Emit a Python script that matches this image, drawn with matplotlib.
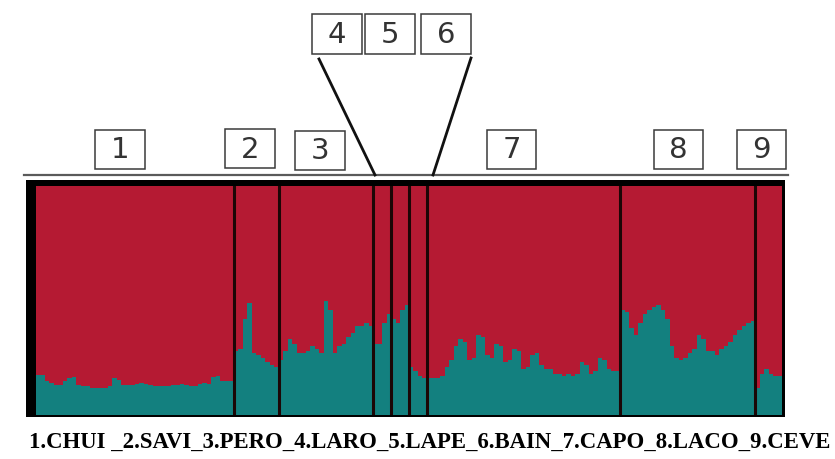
import matplotlib
matplotlib.use("Agg")
import matplotlib.pyplot as plt
from matplotlib.patches import Rectangle
from matplotlib.lines import Line2D
import numpy as np

# ---------------- data (teal ancestry proportion per individual) ----------------
pop_numbers = ["1", "2", "3", "4", "5", "6", "7", "8", "9"]
pop_names = ["CHUI", "SAVI", "PERO", "LARO", "LAPE", "BAIN", "CAPO", "LACO", "CEVE"]

chui = [0.175, 0.175, 0.15, 0.14, 0.13, 0.13, 0.15, 0.16, 0.165, 0.13,
        0.125, 0.125, 0.12, 0.12, 0.12, 0.12, 0.125, 0.16, 0.155, 0.13,
        0.13, 0.13, 0.135, 0.14, 0.135, 0.13, 0.125, 0.125, 0.125, 0.125,
        0.13, 0.13, 0.135, 0.13, 0.125, 0.125, 0.135, 0.14, 0.135, 0.165,
        0.17, 0.15, 0.15, 0.15]
savi = [0.28, 0.29, 0.42, 0.49, 0.27, 0.26, 0.25, 0.23, 0.22, 0.21]
pero = [0.24, 0.28, 0.33, 0.31, 0.27, 0.27, 0.28, 0.30, 0.29, 0.27,
        0.50, 0.46, 0.27, 0.30, 0.31, 0.34, 0.36, 0.39, 0.39, 0.40, 0.39]
laro = [0.31, 0.31, 0.40, 0.44]
lape = [0.42, 0.40, 0.46, 0.48]
bain = [0.21, 0.19, 0.17, 0.16]
capo = [0.16, 0.16, 0.16, 0.17, 0.21, 0.24, 0.30, 0.33, 0.32, 0.24,
        0.25, 0.35, 0.34, 0.26, 0.25, 0.31, 0.30, 0.23, 0.24, 0.29,
        0.28, 0.20, 0.21, 0.26, 0.27, 0.22, 0.20, 0.20, 0.18, 0.18,
        0.17, 0.18, 0.17, 0.18, 0.23, 0.22, 0.18, 0.19, 0.25, 0.24,
        0.20, 0.19, 0.19]
laco = [0.46, 0.45, 0.38, 0.35, 0.40, 0.44, 0.46, 0.47, 0.48, 0.46,
        0.42, 0.30, 0.25, 0.24, 0.25, 0.27, 0.29, 0.35, 0.33, 0.28,
        0.28, 0.26, 0.29, 0.30, 0.32, 0.35, 0.37, 0.39, 0.40, 0.41]
ceve = [0.12, 0.18, 0.20, 0.18, 0.17, 0.17]

populations = [chui, savi, pero, laro, lape, bain, capo, laco, ceve]

RED = "#B51A33"
TEAL = "#13807F"

W, H = 835, 459
fig = plt.figure(figsize=(W / 100, H / 100), dpi=100)
fig.patch.set_facecolor("white")


def fx(px):
    return px / W


def fy(py):
    return 1 - py / H


# black frame behind the plot
fig.patches.append(Rectangle((fx(26), fy(417)), fx(785) - fx(26), fy(180) - fy(417),
                             transform=fig.transFigure, facecolor="black",
                             edgecolor="none", zorder=0))
# gray rule above the frame
fig.lines.append(Line2D([fx(24), fx(788)], [fy(175), fy(175)], transform=fig.transFigure,
                        color="#5a5a5a", lw=1.6, zorder=1))

ax = fig.add_axes([fx(36), fy(415), fx(782) - fx(36), fy(186) - fy(415)])
ax.set_zorder(2)

teal = np.concatenate([np.asarray(p, float) for p in populations])
n = len(teal)
x = np.arange(n)
ax.bar(x, teal, width=1.0, align="edge", color=TEAL, edgecolor="none", linewidth=0)
ax.bar(x, 1 - teal, bottom=teal, width=1.0, align="edge", color=RED,
       edgecolor="none", linewidth=0)

bounds = np.cumsum([len(p) for p in populations])[:-1]
for b in bounds:
    ax.axvline(b, color="#1c0606", lw=2.2)

ax.set_xlim(0, n)
ax.set_ylim(0, 1)
ax.set_xticks([])
ax.set_yticks([])
for s in ax.spines.values():
    s.set_visible(False)

# numbered boxes (pixel positions: left, top, right, bottom)
boxes = {
    "1": (95, 130, 145, 169),
    "2": (225, 129, 275, 168),
    "3": (295, 131, 345, 170),
    "4": (312, 14, 362, 54),
    "5": (365, 14, 415, 54),
    "6": (421, 14, 471, 54),
    "7": (487, 130, 536, 169),
    "8": (654, 130, 703, 169),
    "9": (737, 130, 786, 169),
}
for lab in pop_numbers:
    l, t, r, bt = boxes[lab]
    fig.patches.append(Rectangle((fx(l), fy(bt)), fx(r) - fx(l), fy(t) - fy(bt),
                                 transform=fig.transFigure, facecolor="white",
                                 edgecolor="#3a3a3a", lw=1.1, zorder=3))
    fig.text(fx((l + r) / 2), fy((t + bt) / 2 + 1), lab, ha="center", va="center",
             fontsize=21, family="DejaVu Sans", color="#333333", zorder=4)

# pointer lines from boxes 4 and 6 down to the narrow populations
fig.lines.append(Line2D([fx(319), fx(375)], [fy(59), fy(175)], transform=fig.transFigure,
                        color="#111111", lw=2.0, zorder=3))
fig.lines.append(Line2D([fx(471), fx(433)], [fy(58), fy(175)], transform=fig.transFigure,
                        color="#111111", lw=2.0, zorder=3))

# bottom caption
caption = "1.CHUI _2.SAVI_3.PERO_4.LARO_5.LAPE_6.BAIN_7.CAPO_8.LACO_9.CEVE"
txt = fig.text(fx(430), fy(442), caption, ha="center", va="center",
               fontsize=14, family="Liberation Serif", fontweight="bold", color="black")
fig.canvas.draw()
ext = txt.get_window_extent()
target = 806.0
txt.set_fontsize(14 * target / ext.width)

fig.savefig("out.png", dpi=100)
